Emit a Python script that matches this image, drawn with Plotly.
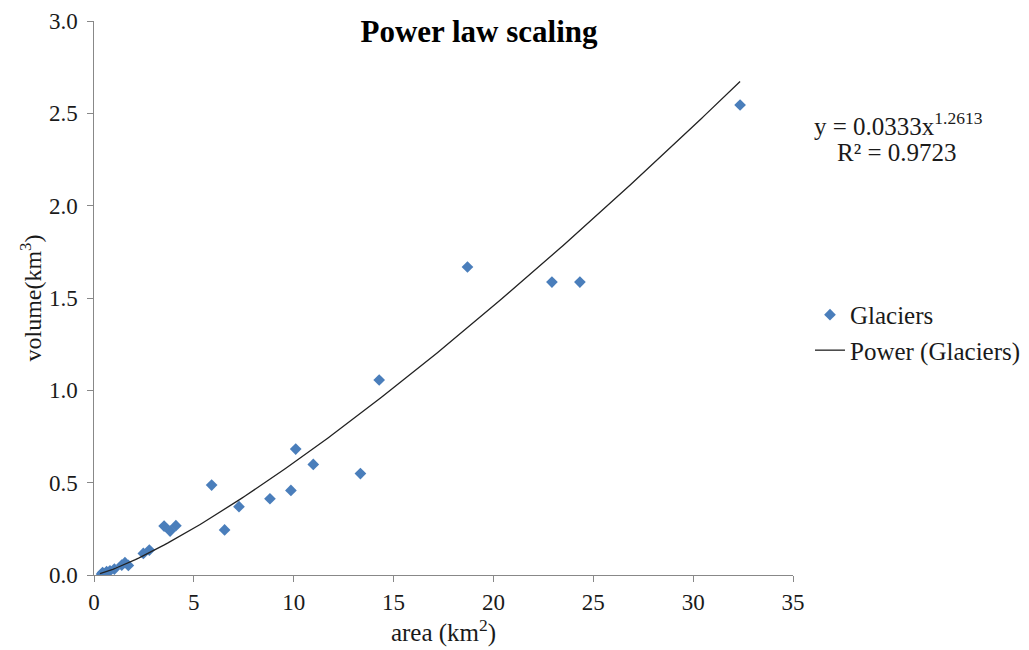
import numpy as np
import plotly.graph_objects as go

# Glacier data
area = [0.38, 0.43, 0.63, 0.80, 1.02, 1.39, 1.55, 1.72, 2.47, 2.77, 3.51, 3.81, 4.10,
        5.89, 6.54, 7.26, 8.81, 9.86, 10.10, 10.98, 13.34, 14.28, 18.70, 22.93, 24.33, 32.35]
volume = [0.005, 0.013, 0.018, 0.023, 0.032, 0.054, 0.067, 0.052, 0.117, 0.135, 0.265, 0.238, 0.267,
          0.487, 0.244, 0.370, 0.413, 0.458, 0.682, 0.599, 0.549, 1.056, 1.668, 1.586, 1.586, 2.545]

# Power-law fit shown on chart
fit_a = 0.0333
fit_b = 1.2613
fit_r2 = 0.9723

x_ticks = [0, 5, 10, 15, 20, 25, 30, 35]
y_ticks = [0.0, 0.5, 1.0, 1.5, 2.0, 2.5, 3.0]
y_tick_labels = ["0.0", "0.5", "1.0", "1.5", "2.0", "2.5", "3.0"]

xf = np.linspace(0.3, max(area), 200)
yf = fit_a * xf ** fit_b

FONT = "Liberation Serif, Times New Roman, serif"
W, H = 1021, 642

fig = go.Figure()
fig.add_trace(go.Scatter(
    x=area, y=volume, mode="markers", name="Glaciers",
    marker=dict(symbol="diamond", size=9, color="#4A7EBB"),
    legendgroup="g1",
))
fig.add_trace(go.Scatter(
    x=xf, y=yf, mode="lines", name="Power (Glaciers)",
    line=dict(color="#222222", width=1.3),
    legendgroup="g2",
))

fig.update_layout(
    width=W, height=H,
    margin=dict(l=86, r=W - 86 - 699, t=13, b=H - 13 - 554, autoexpand=False),
    paper_bgcolor="white", plot_bgcolor="white",
    font=dict(family=FONT, color="#1a1a1a"),
    title=dict(text="<b>Power law scaling</b>", x=471 / W, xref="container",
               xanchor="center", y=1 - 23 / H, yref="container", yanchor="middle",
               font=dict(size=31, color="black", family=FONT)),
    showlegend=True,
    legend=dict(x=1.0243, y=0.511, xanchor="left", yanchor="top",
                font=dict(size=25, color="#1a1a1a", family=FONT),
                tracegroupgap=0, bgcolor="rgba(0,0,0,0)"),
    xaxis=dict(range=[0, 35], tickvals=x_ticks, ticks="outside", ticklen=6,
               tickcolor="#888888", showline=True, linecolor="#888888", linewidth=1,
               showgrid=False, zeroline=False, automargin=False,
               tickfont=dict(size=23, color="#1a1a1a", family=FONT),
               title=dict(text="area (km<sup>2</sup>)", font=dict(size=25, family=FONT), standoff=6)),
    yaxis=dict(range=[0, 3], tickvals=y_ticks,
               ticktext=[t + "\u2009" for t in y_tick_labels],
               ticks="outside", ticklen=6,
               tickcolor="#888888", showline=True, linecolor="#888888", linewidth=1,
               showgrid=False, zeroline=False, automargin=False,
               tickfont=dict(size=23, color="#1a1a1a", family=FONT),
               title=dict(text="volume(km<sup>3</sup>)", font=dict(size=24, family=FONT), standoff=0)),
)

fig.add_annotation(
    xref="paper", yref="paper",
    x=(898 - 94) / 699, y=(575 - 124) / 554,
    text=f"y = {fit_a}x<sup>{fit_b}</sup>",
    showarrow=False, align="center", xanchor="center", yanchor="middle",
    font=dict(size=25, color="#1a1a1a", family=FONT),
)
fig.add_annotation(
    xref="paper", yref="paper",
    x=(897 - 94) / 699, y=(575 - 152) / 554,
    text=f"R² = {fit_r2}",
    showarrow=False, align="center", xanchor="center", yanchor="middle",
    font=dict(size=25, color="#1a1a1a", family=FONT),
)

fig.write_html("out.html")
